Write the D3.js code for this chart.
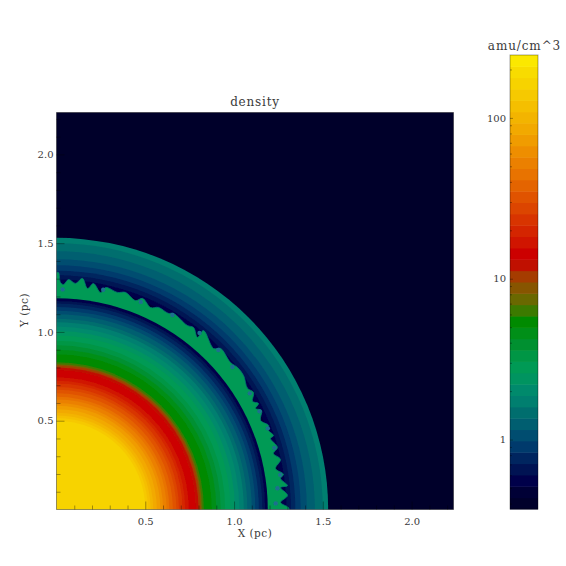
<!DOCTYPE html>
<meta charset="utf-8">
<style>
  body { margin: 0; background: #fff; }
  text { font-family: "DejaVu Serif", serif; fill: #3a3a3a; }
</style>
<script src="https://d3js.org/d3.v7.min.js"></script>
<div id="my_dataviz"></div>
<script>

// colour table of the legend, bottom to top
var bandColors = [
  "#00002b", "#000036", "#00004a", "#001353", "#00255f", "#003a6c", "#004d70", "#005e70",
  "#006e6e", "#007f6f", "#008a6c", "#009460", "#009a55", "#009645", "#009030", "#008f18",
  "#008a00", "#3c7a00", "#6a6800", "#875500", "#a53c00", "#c01000", "#cc0000", "#d01500",
  "#d42500", "#d83400", "#dc4500", "#e05300", "#e46400", "#e87300", "#eb8000", "#ee8e00",
  "#f09c00", "#f2a900", "#f3b400", "#f5bf00", "#f6c900", "#f7d300", "#f8dc00", "#fbe800"
];
var barTicks = [1, 10, 100];
var barMinor = [0.4, 0.5, 0.6, 0.7, 0.8, 0.9, 2, 3, 4, 5, 6, 7, 8, 9, 20, 30, 40, 50, 60, 70, 80, 90, 200];
var axisTicks = [0.5, 1.0, 1.5, 2.0];
var axisMinor = [0.1, 0.2, 0.3, 0.4, 0.6, 0.7, 0.8, 0.9, 1.1, 1.2, 1.3, 1.4, 1.6, 1.7, 1.8, 1.9, 2.1, 2.2];

// swept up gas ahead of the shell: outer radius (pc) and density of each ring
var outerRadius = [1.53, 1.50, 1.455, 1.41, 1.375, 1.345, 1.32, 1.295, 1.27];
var outerDensity = [1.73, 1.47, 1.25, 1.06, 0.90, 0.77, 0.65, 0.55, 0.47];

// inner profile: outer radius (pc) and density of each ring
var innerRadius = [
  1.19, 1.175, 1.16, 1.14, 1.12, 1.10, 1.075, 1.055, 1.03, 1.005, 0.98, 0.95, 0.925, 0.90,
  0.875, 0.83, 0.82, 0.815, 0.81, 0.80, 0.785, 0.745, 0.725, 0.71, 0.69, 0.675, 0.655, 0.635,
  0.62, 0.60, 0.585, 0.565, 0.545, 0.53, 0.515, 0.50
];
var innerDensity = [
  0.55, 0.65, 0.77, 0.90, 1.06, 1.25, 1.47, 1.73, 2.04, 2.40, 2.82, 3.32, 3.90, 4.59,
  5.40, 6.35, 7.47, 8.79, 10.3, 12.2, 14.3, 16.8, 19.8, 23.3, 27.4, 32.3, 37.9, 44.7,
  52.5, 61.8, 72.7, 85.5, 101, 118, 139, 164
];

// outer edge of the dense shell: angle from the X axis (deg) and radius (pc)
var shellAngle = [
  0, 0.5, 1.8, 3.5, 5.6, 5.9, 7.9, 8.8, 10.6, 12.6, 14.5, 15.7, 18.4, 18.8, 20.8, 21.6, 23.6,
  25.8, 26.9, 27.7, 28.9, 30.7, 32.4, 35.6, 38.1, 40.2, 44.5, 45.7, 50.6, 50.7, 53, 54.6, 59.2,
  60.3, 63.2, 65, 67.8, 69.3, 72.4, 74.3, 77.5, 78.5, 80.7, 82, 83.6, 85.2, 87, 88.2, 89, 89.5, 90
];
var shellRadius = [
  1.31, 1.307, 1.263, 1.304, 1.268, 1.308, 1.274, 1.294, 1.255, 1.293, 1.262, 1.293, 1.27, 1.291, 1.271, 1.285, 1.254,
  1.283, 1.257, 1.285, 1.261, 1.291, 1.274, 1.296, 1.296, 1.283, 1.295, 1.267, 1.304, 1.253, 1.283, 1.272, 1.286,
  1.272, 1.275, 1.255, 1.284, 1.258, 1.283, 1.27, 1.281, 1.247, 1.29, 1.257, 1.31, 1.278, 1.297, 1.268, 1.279, 1.335, 1.335
];

// curled mushroom tips in the shell
var curlAngle = [1.6, 5.5, 8.8, 15.8, 21, 25.8, 31, 39, 44.6, 51, 59.2, 67.9, 78, 88.4];
var curlRadius = [1.235, 1.25, 1.275, 1.275, 1.275, 1.27, 1.27, 1.275, 1.28, 1.28, 1.275, 1.262, 1.265, 1.24];

var margin = {top: 112.5, left: 56.5},
    width = 397,
    height = 397,
    maxPc = 2.236;

var svg = d3.select("#my_dataviz")
  .append("svg")
    .attr("width", 566)
    .attr("height", 566)
    .style("display", "block");

var defs = svg.append("defs");
defs.append("clipPath").attr("id", "plotClip")
  .append("rect").attr("width", width).attr("height", height);
defs.append("filter").attr("id", "soft")
  .append("feGaussianBlur").attr("stdDeviation", 0.6);

var plot = svg.append("g")
  .attr("transform", "translate(" + margin.left + "," + margin.top + ")");

var x = d3.scaleLinear().domain([0, maxPc]).range([0, width]);
var y = d3.scaleLinear().domain([0, maxPc]).range([height, 0]);

// density -> colour, quantized in log space like the legend
var logDomain = [Math.log10(0.37), Math.log10(246)];
var color = d3.scaleQuantize().domain(logDomain).range(bandColors);
function densityColor(d) { return color(Math.log10(d)); }

// the field
var field = plot.append("g")
  .attr("clip-path", "url(#plotClip)")
  .append("g")
    .attr("filter", "url(#soft)");

field.append("rect")
  .attr("x", -5)
  .attr("y", -5)
  .attr("width", width + 10)
  .attr("height", height + 10)
  .attr("fill", bandColors[0]);

var center = field.append("g")
  .attr("transform", "translate(" + x(0) + "," + y(0) + ")");

function rings(radius, density) {
  center.selectAll(null)
    .data(d3.zip(radius, density))
    .enter()
    .append("circle")
      .attr("r", function(d) { return x(d[0]); })
      .attr("fill", function(d) { return densityColor(d[1]); });
}

rings(outerRadius, outerDensity);

var shellLine = d3.lineRadial()
  .angle(function(d) { return (90 - d[0]) * Math.PI / 180; })
  .radius(function(d) { return x(d[1]); })
  .curve(d3.curveCatmullRom);

center.append("path")
  .attr("d", shellLine(d3.zip(shellAngle, shellRadius)) + "L0,0Z")
  .attr("fill", bandColors[12])
  .attr("stroke", "#007a70")
  .attr("stroke-width", 0.8);

center.selectAll(null)
  .data(d3.zip(curlAngle, curlRadius))
  .enter()
  .append("circle")
    .attr("cx", function(d) { return x(d[1]) * Math.cos(d[0] * Math.PI / 180); })
    .attr("cy", function(d) { return -x(d[1]) * Math.sin(d[0] * Math.PI / 180); })
    .attr("r", 2.2)
    .attr("fill", "#1f6f8f");

rings(innerRadius, innerDensity);

// frame
plot.append("rect")
  .attr("width", width)
  .attr("height", height)
  .attr("fill", "none")
  .attr("stroke", "#000")
  .attr("stroke-opacity", 0.4);

// axes, ticks point into the plot
function styleAxis(g) {
  g.select(".domain").remove();
  g.selectAll("line").attr("stroke", "#000").attr("stroke-opacity", 0.35);
  g.selectAll("text").attr("font-size", 10).style("font-family", "DejaVu Serif").attr("fill", "#3a3a3a");
}

var fmt = d3.format(".1f");

plot.append("g")
  .attr("transform", "translate(0," + height + ")")
  .call(d3.axisBottom(x).tickValues(axisTicks).tickFormat(fmt).tickSizeInner(-8).tickPadding(8))
  .call(styleAxis);
plot.append("g")
  .attr("transform", "translate(0," + height + ")")
  .call(d3.axisBottom(x).tickValues(axisMinor).tickFormat("").tickSizeInner(-4))
  .call(styleAxis);
plot.append("g")
  .call(d3.axisLeft(y).tickValues(axisTicks).tickFormat(fmt).tickSizeInner(-8).tickPadding(3))
  .call(styleAxis);
plot.append("g")
  .call(d3.axisLeft(y).tickValues(axisMinor).tickFormat("").tickSizeInner(-4))
  .call(styleAxis);

// titles
svg.append("text")
  .attr("x", 255).attr("y", 106)
  .attr("text-anchor", "middle")
  .attr("font-size", 12)
  .attr("letter-spacing", 0.8)
  .text("density");

svg.append("text")
  .attr("x", 255).attr("y", 537)
  .attr("text-anchor", "middle")
  .attr("font-size", 10.5)
  .attr("letter-spacing", 0.5)
  .text("X (pc)");

svg.append("text")
  .attr("transform", "translate(28,310) rotate(-90)")
  .attr("text-anchor", "middle")
  .attr("font-size", 10.5)
  .attr("letter-spacing", 0.5)
  .text("Y (pc)");

// colour legend
var barLeft = 510,
    barWidth = 28,
    barTop = 55,
    barBottom = 509;

var yBar = d3.scaleLog().domain([0.37, 246]).range([barBottom, barTop]);

var bar = svg.append("g");

bar.selectAll("rect")
  .data(bandColors)
  .enter()
  .append("rect")
    .attr("x", barLeft)
    .attr("width", barWidth)
    .attr("y", function(d) { return yBar(Math.pow(10, color.invertExtent(d)[1])); })
    .attr("height", function(d) {
      var e = color.invertExtent(d);
      return yBar(Math.pow(10, e[0])) - yBar(Math.pow(10, e[1])) + 0.5;
    })
    .attr("fill", function(d) { return d; });

bar.append("rect")
  .attr("x", barLeft)
  .attr("y", barTop)
  .attr("width", barWidth)
  .attr("height", barBottom - barTop)
  .attr("fill", "none")
  .attr("stroke", "#000")
  .attr("stroke-opacity", 0.35);

svg.append("g")
  .attr("transform", "translate(" + barLeft + ",0)")
  .call(d3.axisLeft(yBar).tickValues(barTicks).tickFormat(d3.format("d")).tickSizeInner(-3).tickPadding(4))
  .call(styleAxis);
svg.append("g")
  .attr("transform", "translate(" + barLeft + ",0)")
  .call(d3.axisLeft(yBar).tickValues(barMinor).tickFormat("").tickSizeInner(-2))
  .call(styleAxis);

svg.append("text")
  .attr("x", 524.5).attr("y", 50)
  .attr("text-anchor", "middle")
  .attr("font-size", 12)
  .attr("letter-spacing", 0.9)
  .text("amu/cm^3");

</script>
